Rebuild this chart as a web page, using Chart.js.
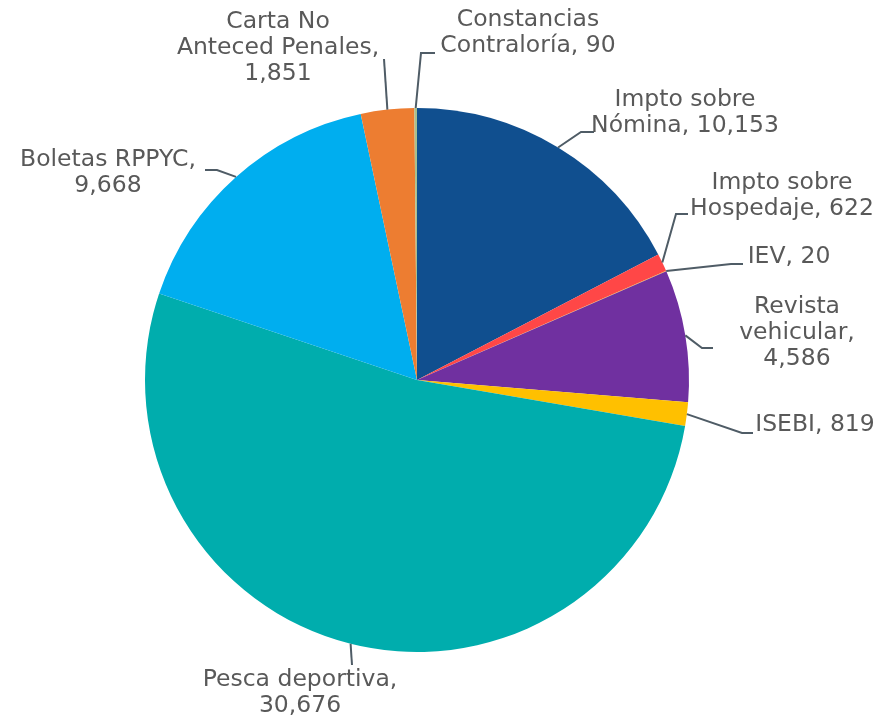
<!DOCTYPE html>
<html><head><meta charset="utf-8">
<script src="https://cdn.jsdelivr.net/npm/chart.js@4.4.0/dist/chart.umd.min.js"></script>
<style>html,body{margin:0;padding:0;background:#fff}#wrap{width:880px;height:716px;position:relative}</style>
</head><body><div id="wrap"><canvas id="c" width="880" height="716"></canvas></div>
<script>
const categories = ["Impto sobre Nómina","Impto sobre Hospedaje","IEV","Revista vehicular","ISEBI","Pesca deportiva","Boletas RPPYC","Carta No Anteced Penales","Constancias Contraloría"];
const values = [10153, 622, 20, 4586, 819, 30676, 9668, 1851, 90];
const valueLabels = ["10,153","622","20","4,586","819","30,676","9,668","1,851","90"];
const colors = ["#104F8F","#FF4747","#F5A623","#7030A0","#FFC000","#00ADAD","#00AEEF","#ED7D31","#A9C08E"];
// label text lines (display)
const labelLines = [
  ["Impto sobre","Nómina, 10,153"],
  ["Impto sobre","Hospedaje, 622"],
  ["IEV, 20"],
  ["Revista","vehicular,","4,586"],
  ["ISEBI, 819"],
  ["Pesca deportiva,","30,676"],
  ["Boletas RPPYC,","9,668"],
  ["Carta No","Anteced Penales,","1,851"],
  ["Constancias","Contraloría, 90"]
];
// layout: offsets from pie centre (text centre of first line; leader path points)
const labelLayout = [
  {tx:268, ty:-280, path:[[164,-248],[177,-248]]},
  {tx:365, ty:-197, path:[[259,-166],[271,-166]]},
  {tx:372, ty:-123, path:[[314,-116],[326,-116]]},
  {tx:380, ty:-73,  path:[[285,-32],[296,-32]]},
  {tx:398, ty:45,   path:[[325,53],[336,53]]},
  {tx:-117, ty:300, path:[[-65,285]]},
  {tx:-309, ty:-220,path:[[-200,-210],[-212,-210]]},
  {tx:-139, ty:-358,path:[[-33,-321]]},
  {tx:111, ty:-360, path:[[4,-327],[18,-327]]}
];
const LINE_H = 25.7;

const labelPlugin = {
  id:'labels',
  afterDatasetsDraw(chart){
    const ctx = chart.ctx;
    const meta = chart.getDatasetMeta(0);
    ctx.save();
    meta.data.forEach((arc,i)=>{
      const p = arc.getProps(['x','y','startAngle','endAngle','outerRadius'],true);
      const mid = (p.startAngle+p.endAngle)/2;
      const ex = p.x + Math.cos(mid)*p.outerRadius;
      const ey = p.y + Math.sin(mid)*p.outerRadius;
      const L = labelLayout[i];
      ctx.strokeStyle = '#4F5C66';
      ctx.lineWidth = 2;
      ctx.beginPath();
      ctx.moveTo(ex,ey);
      L.path.forEach(pt=>ctx.lineTo(p.x+pt[0], p.y+pt[1]));
      ctx.stroke();
      ctx.fillStyle = '#595959';
      ctx.font = '23.5px "DejaVu Sans"';
      ctx.textAlign = 'center';
      ctx.textBaseline = 'middle';
      labelLines[i].forEach((t,k)=>{
        ctx.fillText(t, p.x+L.tx, p.y+L.ty + k*LINE_H);
      });
    });
    ctx.restore();
  }
};

new Chart(document.getElementById('c'),{
  type:'pie',
  data:{labels:categories, datasets:[{data:values, backgroundColor:colors, borderWidth:0}]},
  options:{
    responsive:false, animation:false,
    layout:{padding:{left:145,right:191,top:108,bottom:64}},
    plugins:{legend:{display:false}, tooltip:{enabled:false}}
  },
  plugins:[labelPlugin]
});
</script></body></html>
